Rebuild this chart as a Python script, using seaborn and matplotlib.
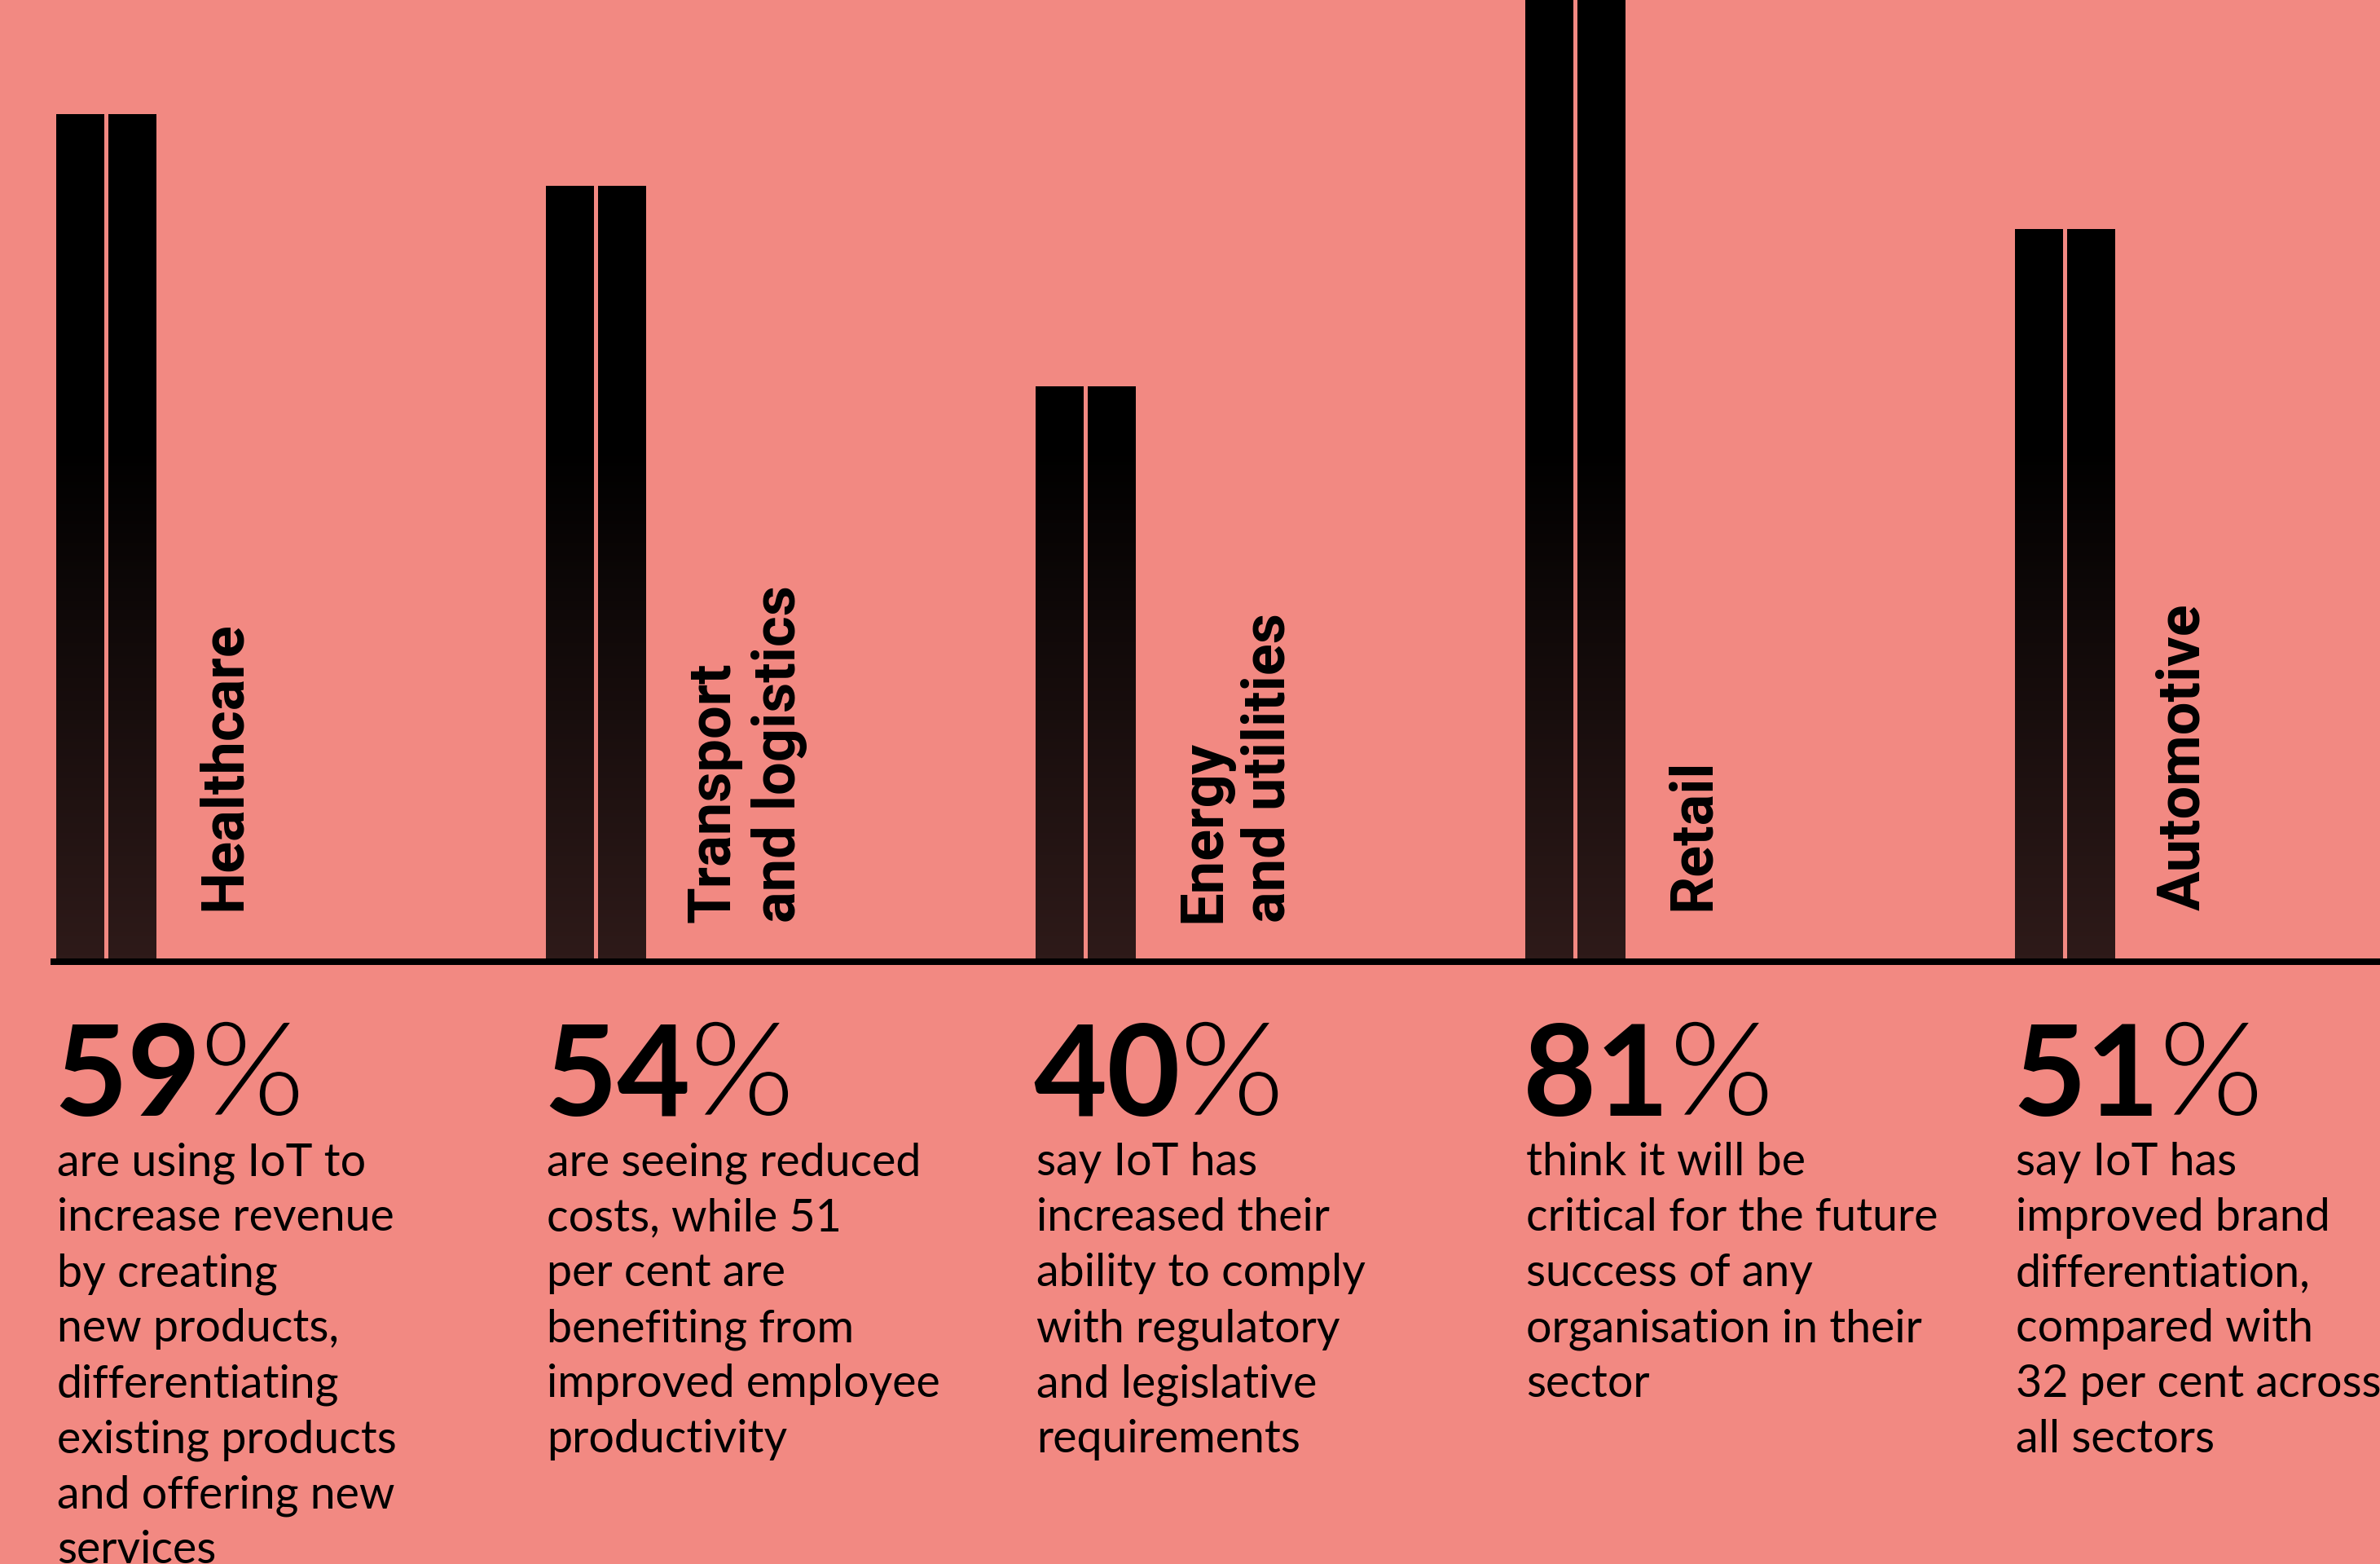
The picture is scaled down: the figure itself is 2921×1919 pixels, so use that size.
import numpy as np
import pandas as pd
import matplotlib
matplotlib.use("Agg")
import matplotlib.pyplot as plt
import matplotlib.patheffects as pe
import seaborn as sns
from matplotlib.colors import LinearSegmentedColormap

# ── Data ──────────────────────────────────────────────────────────────────────
SECTORS = ["Healthcare", "Transport\nand logistics", "Energy\nand utilities",
           "Retail", "Automotive"]
VALUES = [59, 54, 40, 81, 51]
DESCRIPTIONS = [
    ["are using IoT to", "increase revenue", "by creating", "new products,",
     "differentiating", "existing products", "and offering new", "services"],
    ["are seeing reduced", "costs, while 51", "per cent are",
     "benefiting from", "improved employee", "productivity"],
    ["say IoT has", "increased their", "ability to comply",
     "with regulatory", "and legislative", "requirements"],
    ["think it will be", "critical for the future", "success of any",
     "organisation in their", "sector"],
    ["say IoT has", "improved brand", "differentiation,", "compared with",
     "32 per cent across", "all sectors"],
]

# ── Layout (pixels of the 2921x1919 canvas) ──────────────────────────────────
W, H = 2921, 1919
BASE_PX = 1176       # baseline, from top
PX_PER_PCT = 17.555
STEP_PX = 601
FIRST_PX = 130.4
HALF_PAIR = 60.5

BG = "#F28982"
BOTTOM = np.array([46, 26, 25]) / 255


def py(p):
    return (BASE_PX - p) / PX_PER_PCT


def dx(p):
    return p / STEP_PX


fig = plt.figure(figsize=(W / 100, H / 100), dpi=100, facecolor=BG)
ax = fig.add_axes([0, 0, 1, 1])

df = pd.DataFrame({
    "sector": SECTORS * 2,
    "value": VALUES * 2,
    "half": ["left"] * len(SECTORS) + ["right"] * len(SECTORS),
})
sns.barplot(data=df, x="sector", y="value", hue="half",
            palette=["black", "black"], width=0.212, gap=0.08,
            saturation=1, legend=False, errorbar=None, linewidth=0, ax=ax)

xlim = (-FIRST_PX / STEP_PX, (W - FIRST_PX) / STEP_PX)
ylim = (py(H), py(0))

# vertical gradient: dark brown at the baseline, black higher up
yy = np.linspace(0, 90, 400)
t = np.clip(yy / 36.0, 0, 1)
cmap = LinearSegmentedColormap.from_list("bar", [tuple(BOTTOM), (0, 0, 0)])
for patch in list(ax.patches):
    patch.set_facecolor("none")
    im = ax.imshow(t[:, None], extent=(xlim[0], xlim[1], 0, 90), origin="lower",
                   aspect="auto", cmap=cmap, vmin=0, vmax=1, zorder=2)
    im.set_clip_path(patch)

ax.set_xlim(*xlim)
ax.set_ylim(*ylim)
ax.set_axis_off()

ax.axhline(py(1180), xmin=66 / W, xmax=1, color="black", lw=8 * 0.72, zorder=3)

# sector labels, rotated
for i, lab in enumerate(SECTORS):
    lines = lab.split("\n")
    y0 = py(1117) if len(lines) == 1 else py(1132)
    for j, line in enumerate(lines):
        ax.text(i + dx(HALF_PAIR + 104 + 80 * j), y0, line, rotation=90,
                rotation_mode="anchor", ha="left", va="baseline",
                fontsize=52, fontweight="bold", family="Roboto", color="black")

# big numbers and descriptions
fig.canvas.draw()
renderer = fig.canvas.get_renderer()
thin = [pe.Stroke(linewidth=3.4, foreground=BG)]
for i, (v, desc) in enumerate(zip(VALUES, DESCRIPTIONS)):
    left = i - dx(HALF_PAIR)
    num = ax.text(left - dx(4), py(1369), str(v), ha="left", va="baseline",
                  fontsize=112, fontweight="bold", family="Lato", color="black")
    bb = num.get_window_extent(renderer)
    ax.text(bb.x1 / W * (xlim[1] - xlim[0]) + xlim[0] - dx(2), py(1370), "%",
            ha="left", va="baseline", fontsize=118, fontweight="normal",
            family="Lato", color="black", path_effects=thin)
    for k, line in enumerate(desc):
        ax.text(left, py(1442 + 68 * k), line, ha="left", va="baseline",
                fontsize=40, family="Lato", color="black")

fig.savefig("out.png", dpi=100, facecolor=BG)
